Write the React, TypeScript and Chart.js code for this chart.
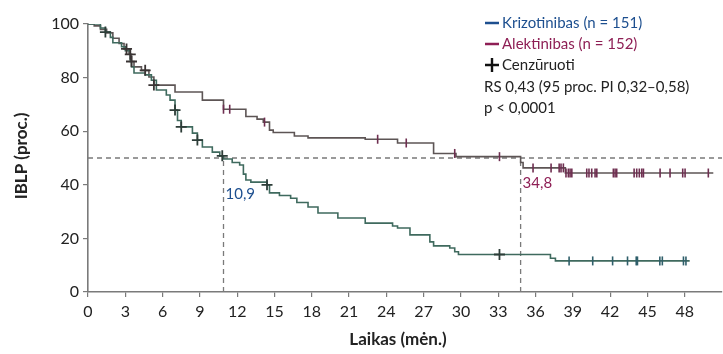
import React, { useEffect, useRef } from "react";
import { Chart, registerables } from "chart.js";

Chart.register(...registerables);

// ---- Data (months, percent) ----
const crizoTimes = [0, 1.0, 1.4, 1.8, 2.0, 2.7, 3.0, 3.4, 3.5, 3.7, 4.6, 5.1, 5.5, 6.3, 6.6, 7.0, 7.2, 7.5, 8.4, 8.8, 9.2, 10.0, 10.6, 10.9, 11.6, 12.2, 12.5, 12.7, 13.1, 14.4, 14.6, 15.4, 16.3, 16.8, 17.7, 18.5, 20.1, 22.3, 24.5, 24.9, 25.9, 27.5, 27.8, 29.1, 29.5, 29.8, 37.2, 37.6, 48.4];
const crizoSurv = [100, 98.5, 97, 95, 93, 91.5, 90, 86, 84, 81.7, 81, 79, 75.4, 73.5, 71.6, 67.9, 64, 61.6, 59.3, 56.7, 54.1, 52.2, 50.8, 49.6, 48.3, 47.4, 44, 41.8, 41, 40, 37, 36, 35, 33.4, 31.7, 29.5, 27.6, 25.7, 24.6, 23.9, 21.3, 18.7, 17.2, 16.4, 15, 14.0, 12.6, 11.6, 11.6];

const alecTimes = [0, 0.5, 1.0, 1.5, 2.0, 2.5, 2.9, 3.3, 3.5, 3.7, 4.3, 4.9, 5.3, 7.0, 9.2, 10.9, 12.7, 13.6, 14.1, 14.6, 14.9, 16.6, 17.7, 22.3, 24.9, 27.8, 29.6, 34.8, 35.0, 38.4, 50.3];
const alecSurv = [100, 99.3, 98, 96.7, 94.7, 92.7, 90.7, 88.7, 86, 84, 82.7, 80.2, 77.2, 74.6, 71.6, 68.2, 65.5, 64.5, 63.4, 60.4, 59.5, 58.2, 57.5, 57.0, 55.6, 51.7, 50.5, 48.3, 46.3, 44.4, 44.4];

const crizoCensorPlus = [1.4, 7.0, 7.5, 8.8, 10.8, 14.4, 33.1];
const crizoCensorTick = [38.7, 40.6, 42.2, 43.4, 44.1, 44.2, 46.0, 46.2, 47.9, 48.1];
const alecCensorPlus = [3.1, 3.4, 3.5, 4.6, 5.3];
const alecCensorTick = [10.9, 11.4, 14.2, 23.3, 25.6, 29.5, 33.1, 35.8, 37.25, 37.9, 38.05, 38.24, 38.45, 38.64, 38.78, 38.92, 40.12, 40.3, 40.52, 40.79, 40.93, 42.26, 42.4, 42.53, 43.93, 44.14, 44.35, 44.55, 44.68, 46.02, 46.82, 47.84, 48.03, 49.9];

const medianLevel = 50;
const medianTimes = [10.9, 34.8];
const medianLabels = ["10,9", "34,8"];

const xTicks = [0, 3, 6, 9, 12, 15, 18, 21, 24, 27, 30, 33, 36, 39, 42, 45, 48];
const yTicks = [0, 20, 40, 60, 80, 100];

const legendLabels = ["Krizotinibas (n = 151)", "Alektinibas (n = 152)", "Cenzūruoti"];
const statsLines = ["RS 0,43 (95 proc. PI 0,32–0,58)", "p < 0,0001"];
const xTitle = "Laikas (mėn.)";
const yTitle = "IBLP (proc.)";

// ---- Styles ----
const BLUE = "#1d4f8f";
const MAGENTA = "#8e1f55";
const CRIZO_LINE = "#3f6a5e";
const ALEC_LINE = "#5d5555";
const FONT = "Lato, 'Open Sans', sans-serif";

const stepAt = (times: number[], surv: number[], t: number) => {
  let v = surv[0];
  for (let i = 0; i < times.length; i++) if (times[i] <= t) v = surv[i];
  return v;
};
const pts = (times: number[], surv: number[]) => times.map((t, i) => ({ x: t, y: surv[i] }));
const censorPts = (cs: number[], times: number[], surv: number[]) =>
  cs.map((t) => ({ x: t, y: stepAt(times, surv, t) }));

const textPlugin = {
  id: "texts",
  afterDraw(chart: any) {
    const ctx = chart.ctx as CanvasRenderingContext2D;
    const xs = chart.scales.x;
    const ys = chart.scales.y;
    ctx.save();
    ctx.textBaseline = "middle";
    ctx.textAlign = "left";
    ctx.font = `15px ${FONT}`;

    // legend
    const lx = 485;
    const rows = [23, 44, 65, 87, 108];
    ctx.lineWidth = 2.5;
    ctx.strokeStyle = BLUE;
    ctx.beginPath(); ctx.moveTo(lx, rows[0]); ctx.lineTo(lx + 14, rows[0]); ctx.stroke();
    ctx.fillStyle = BLUE;
    ctx.fillText(legendLabels[0], lx + 17, rows[0]);
    ctx.strokeStyle = MAGENTA;
    ctx.beginPath(); ctx.moveTo(lx, rows[1]); ctx.lineTo(lx + 14, rows[1]); ctx.stroke();
    ctx.fillStyle = MAGENTA;
    ctx.fillText(legendLabels[1], lx + 17, rows[1]);
    ctx.strokeStyle = "#111";
    ctx.lineWidth = 2.4;
    ctx.beginPath();
    ctx.moveTo(lx, rows[2]); ctx.lineTo(lx + 14, rows[2]);
    ctx.moveTo(lx + 7, rows[2] - 7); ctx.lineTo(lx + 7, rows[2] + 7);
    ctx.stroke();
    ctx.fillStyle = "#222";
    ctx.fillText(legendLabels[2], lx + 17, rows[2]);
    ctx.fillText(statsLines[0], lx - 1, rows[3], 228);
    ctx.fillText(statsLines[1], lx - 1, rows[4]);

    // median labels
    ctx.fillStyle = BLUE;
    ctx.fillText(medianLabels[0], xs.getPixelForValue(medianTimes[0]) + 2, ys.getPixelForValue(36.5));
    ctx.fillStyle = MAGENTA;
    ctx.fillText(medianLabels[1], xs.getPixelForValue(medianTimes[1]) + 2, ys.getPixelForValue(40.5));

    // axis titles
    ctx.fillStyle = "#222";
    ctx.font = `bold 17px ${FONT}`;
    ctx.textAlign = "center";
    ctx.fillText(xTitle, 398, 340);
    ctx.translate(22, 156);
    ctx.rotate(-Math.PI / 2);
    ctx.fillText(yTitle, 0, 0);
    ctx.restore();
  },
};

export default function App() {
  const ref = useRef<HTMLCanvasElement>(null);
  useEffect(() => {
    if (!ref.current) return;
    const dash = { borderColor: "#7a7a7a", borderWidth: 1.3, borderDash: [5, 4], pointRadius: 0, showLine: true, type: "line" as const };
    const chart = new Chart(ref.current, {
      type: "line",
      data: {
        datasets: [
          { type: "scatter", data: censorPts(crizoCensorPlus, crizoTimes, crizoSurv), pointStyle: "cross", pointRadius: 5.5, pointBorderWidth: 1.8, borderColor: "#2d3d38", backgroundColor: "#2d3d38" } as any,
          { type: "scatter", data: censorPts(alecCensorPlus, alecTimes, alecSurv), pointStyle: "cross", pointRadius: 5.5, pointBorderWidth: 1.8, borderColor: "#3a3434", backgroundColor: "#3a3434" } as any,
          { type: "scatter", data: censorPts(crizoCensorTick, crizoTimes, crizoSurv), pointStyle: "line", pointRotation: 90, pointRadius: 4.5, pointBorderWidth: 1.6, borderColor: "#2f5f6a", backgroundColor: "#2f5f6a" } as any,
          { type: "scatter", data: censorPts(alecCensorTick, alecTimes, alecSurv), pointStyle: "line", pointRotation: 90, pointRadius: 4.5, pointBorderWidth: 1.6, borderColor: "#6e2e50", backgroundColor: "#6e2e50" } as any,
          { data: pts(crizoTimes, crizoSurv), stepped: true, borderColor: CRIZO_LINE, borderWidth: 1.6, pointRadius: 0, fill: false },
          { data: pts(alecTimes, alecSurv), stepped: true, borderColor: ALEC_LINE, borderWidth: 1.6, pointRadius: 0, fill: false },
          { ...dash, data: [{ x: 0, y: medianLevel }, { x: 51, y: medianLevel }] },
          { ...dash, data: [{ x: medianTimes[0], y: 0 }, { x: medianTimes[0], y: medianLevel }] },
          { ...dash, data: [{ x: medianTimes[1], y: 0 }, { x: medianTimes[1], y: medianLevel }] },
        ] as any,
      },
      options: {
        responsive: false,
        animation: false,
        events: [],
        layout: { autoPadding: false, padding: { top: 24, right: 1, bottom: 0, left: 0 } },
        plugins: { legend: { display: false }, tooltip: { enabled: false } },
        scales: {
          x: {
            type: "linear",
            min: 0,
            max: 51,
            afterBuildTicks: (s: any) => { s.ticks = xTicks.map((v) => ({ value: v })); },
            afterFit: (s: any) => { s.height = 62; s.paddingLeft = 0; s.paddingRight = 0; },
            ticks: { font: { family: FONT, size: 16 }, color: "#222", padding: 5, maxRotation: 0, autoSkip: false },
            grid: { drawOnChartArea: false, drawTicks: true, tickLength: 5, color: "#7a7a7a", lineWidth: 1.2 },
            border: { color: "#7a7a7a", width: 1.6 },
          },
          y: {
            type: "linear",
            min: 0,
            max: 100,
            afterBuildTicks: (s: any) => { s.ticks = yTicks.map((v) => ({ value: v })); },
            afterFit: (s: any) => { s.width = 88; s.paddingTop = 0; s.paddingBottom = 0; },
            ticks: { font: { family: FONT, size: 16 }, color: "#222", padding: 4 },
            grid: { drawOnChartArea: false, drawTicks: true, tickLength: 5, color: "#7a7a7a", lineWidth: 1.2 },
            border: { color: "#7a7a7a", width: 1.6 },
          },
        },
      },
      plugins: [textPlugin],
    });
    return () => chart.destroy();
  }, []);
  return (
    <div style={{ position: "fixed", left: 0, top: 0, width: 723, height: 354, background: "#fff" }}>
      <canvas ref={ref} width={723} height={354} style={{ width: 723, height: 354 }} />
    </div>
  );
}
